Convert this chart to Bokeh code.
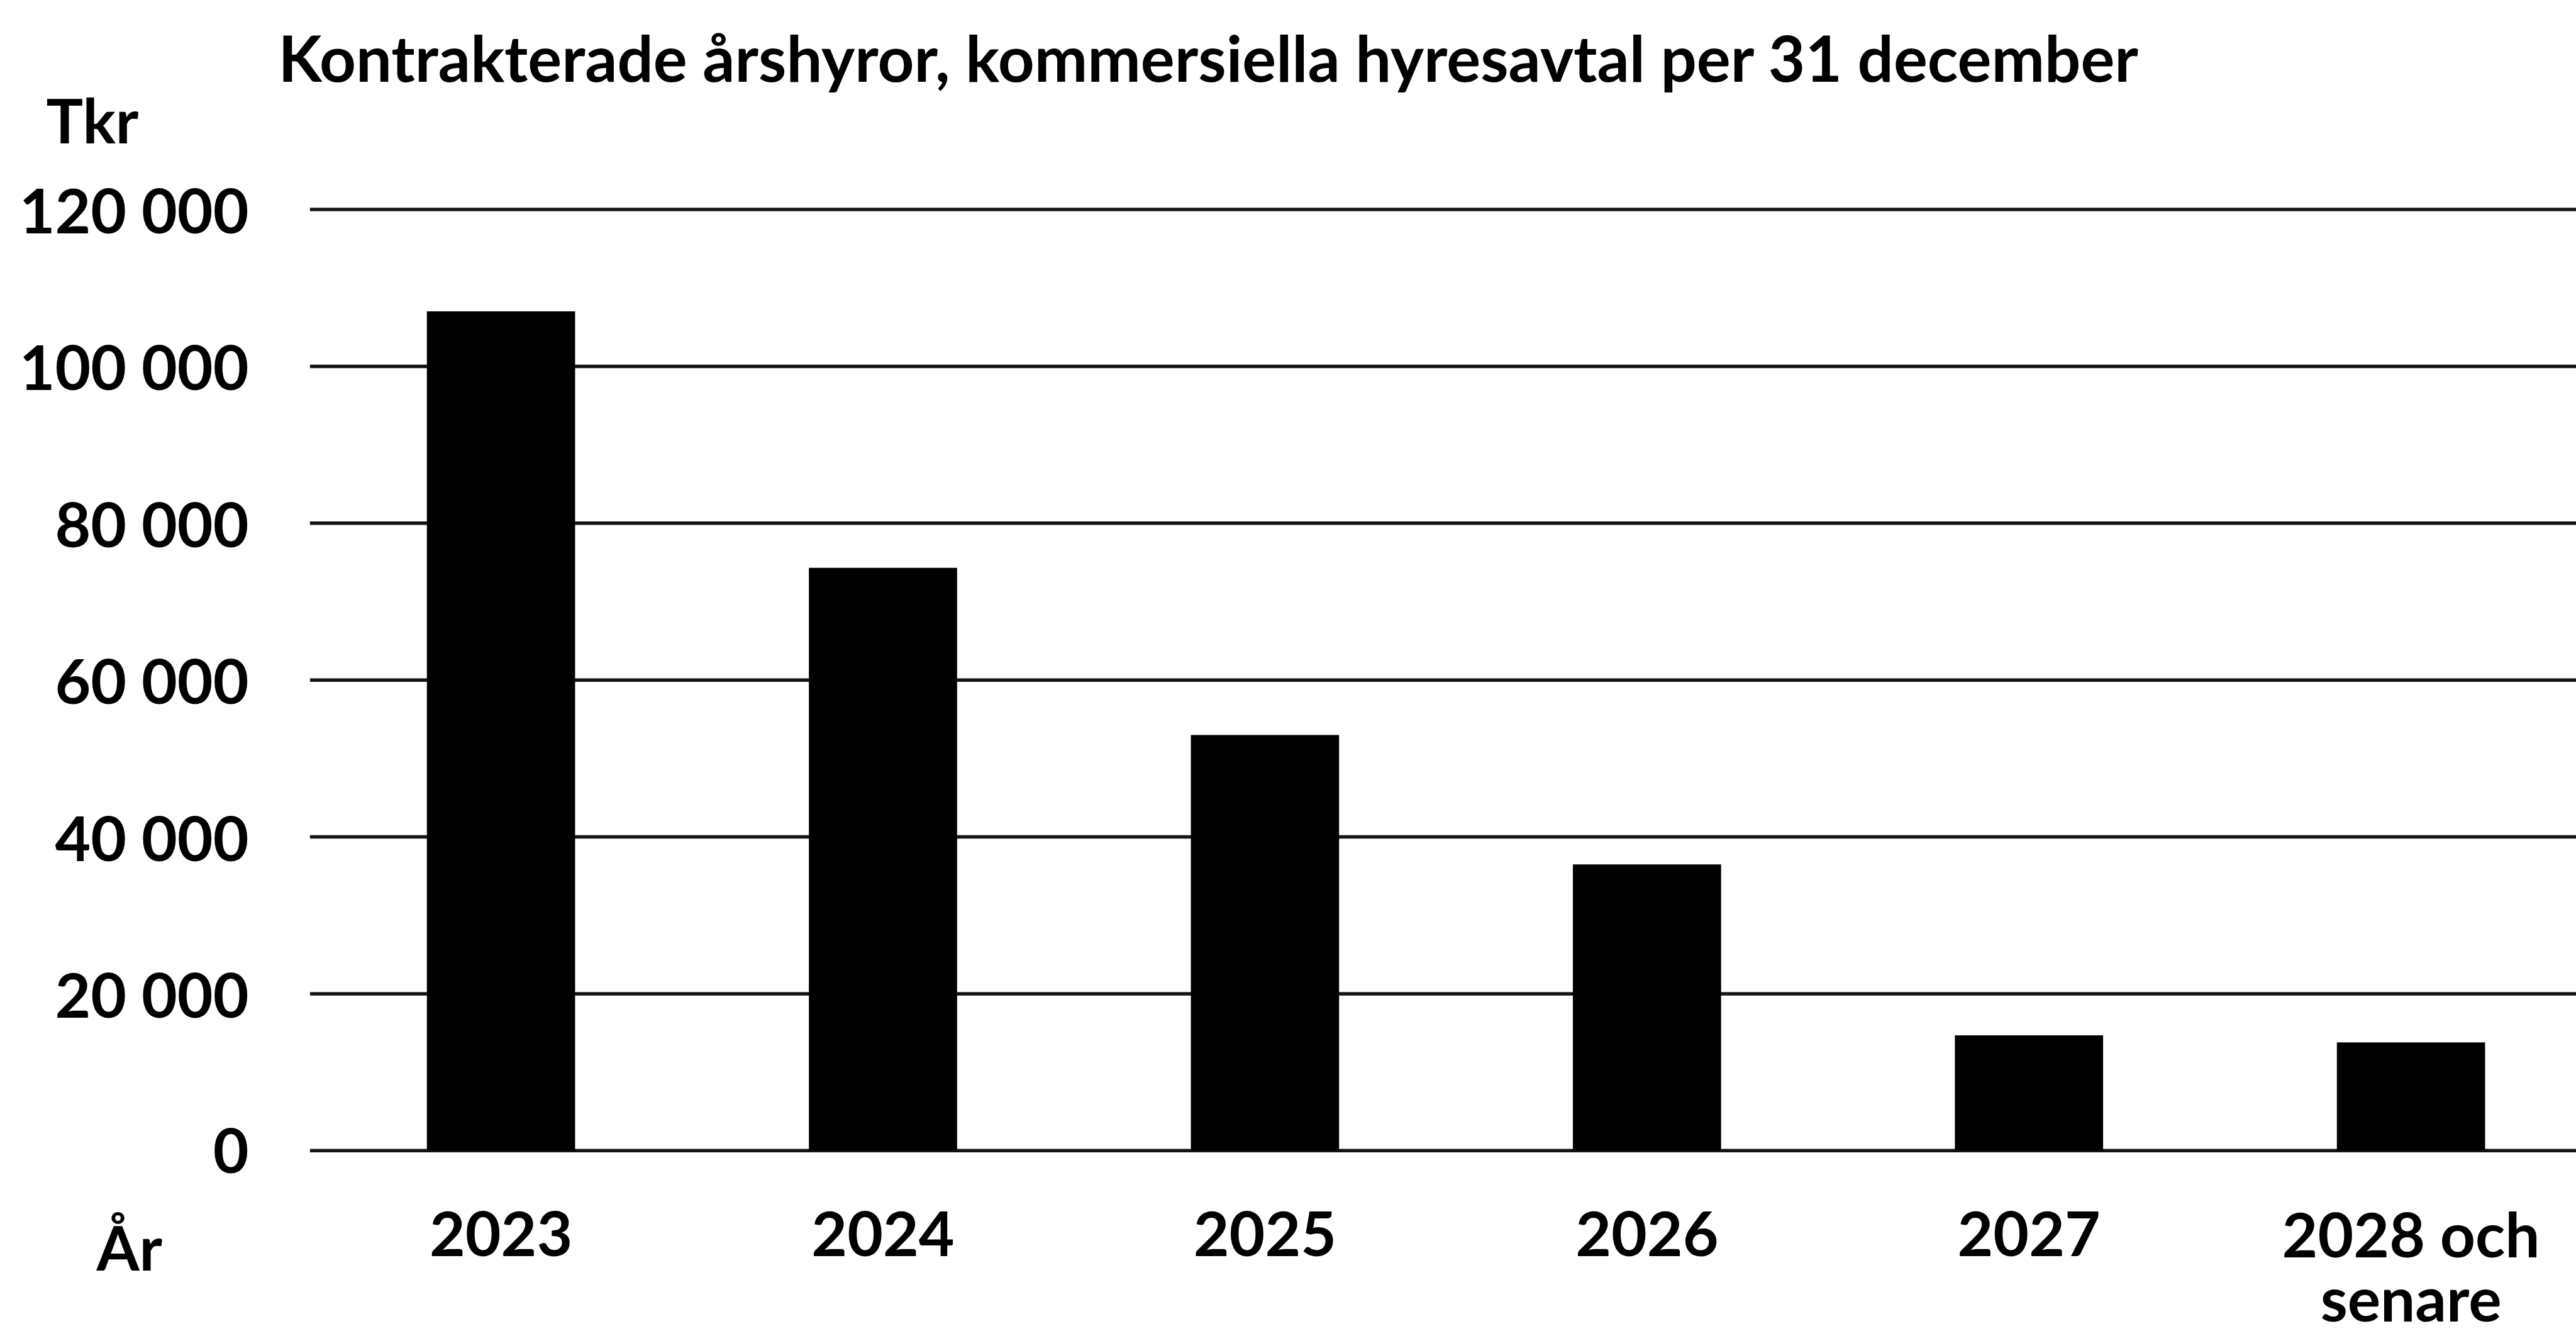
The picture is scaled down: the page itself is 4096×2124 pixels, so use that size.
from bokeh.plotting import figure
from bokeh.models import Range1d, Label
from bokeh.core.properties import value
from bokeh.embed import file_html
from bokeh.resources import INLINE

# ---- data ----
title_text = "Kontrakterade årshyror, kommersiella hyresavtal per 31 december"
y_unit_label = "Tkr"
x_unit_label = "År"
categories = ["2023", "2024", "2025", "2026", "2027", "2028 och\nsenare"]
values = [107000, 74300, 53000, 36500, 14700, 13800]
y_ticks = [0, 20000, 40000, 60000, 80000, 100000, 120000]
y_tick_labels = ["0", "20 000", "40 000", "60 000", "80 000", "100 000", "120 000"]

# ---- layout (page pixels) ----
W, H = 4096, 2124
PL, PR = 492.4, 4096.0          # x = -0.5 at PL, x = CX1 at PR
CX0, CX1 = -0.5, 5.4328
PY0, PY1 = 1828.75, 332.5       # pixel rows of value 0 and 120 000
VY0, VY1 = 0.0, 120000.0
FONT = "Lato"
FS_TITLE = 101
FS = 98
BASE_FIX = 0.40                 # alphabetic-baseline correction (em)
LINE_STEP = 102                 # second line of a category label


def dx(px):
    return CX0 + (px - PL) / (PR - PL) * (CX1 - CX0)


def dy(py):
    return VY0 + (PY0 - py) / (PY0 - PY1) * (VY1 - VY0)


p = figure(width=W, height=H, x_range=Range1d(dx(0), dx(W)), y_range=Range1d(dy(H), dy(0)),
           output_backend="svg", toolbar_location=None,
           x_axis_type=None, y_axis_type=None,
           min_border=0, min_border_left=0, min_border_right=0,
           min_border_top=0, min_border_bottom=0)
p.outline_line_color = None
p.background_fill_color = "white"
p.border_fill_color = "white"
p.xgrid.visible = False
p.ygrid.visible = False

# horizontal gridlines
n = len(y_ticks)
p.segment(x0=[CX0] * n, y0=y_ticks, x1=[CX1] * n, y1=y_ticks,
          line_color="#141414", line_width=5.5)

# bars
xs = list(range(len(categories)))
p.vbar(x=xs, top=values, bottom=0, width=0.388, fill_color="black", line_color=None)

txt = dict(text_font=value(FONT), text_font_style="bold", text_font_size=f"{FS}px",
           text_color="black")

# y tick labels
p.text(x=[dx(395)] * n, y=y_ticks, text=y_tick_labels, text_align="right",
       text_baseline="middle", **txt)

# category labels
lx, ly, lt = [], [], []
for i, c in enumerate(categories):
    for k, line in enumerate(c.split("\n")):
        lx.append(i)
        ly.append(dy(2000 + k * LINE_STEP - BASE_FIX * FS))
        lt.append(line)
p.text(x=lx, y=ly, text=lt, text_align="center", text_baseline="alphabetic", **txt)

# title and unit labels
def lab(size):
    return dict(text_font=FONT, text_font_style="bold", text_font_size=f"{size}px",
                text_color="black", text_align="left", text_baseline="alphabetic")


p.add_layout(Label(x=dx(442), y=dy(130.6 - BASE_FIX * FS_TITLE), text=title_text, **lab(FS_TITLE)))
p.add_layout(Label(x=dx(73), y=dy(229 - BASE_FIX * FS), text=y_unit_label, **lab(FS)))
p.add_layout(Label(x=dx(153), y=dy(2021 - BASE_FIX * FS), text=x_unit_label, **lab(FS)))

open("out.html", "w").write(file_html(p, INLINE))
